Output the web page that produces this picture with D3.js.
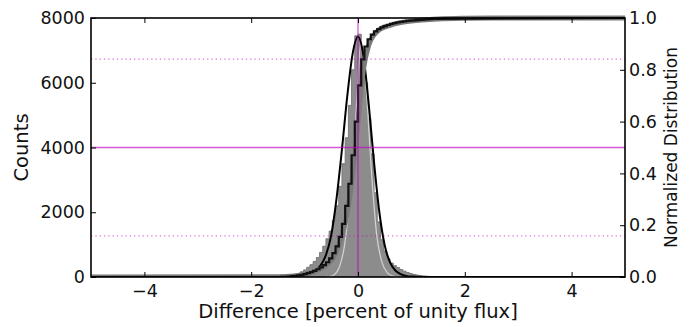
<!DOCTYPE html>
<html>
<head>
<meta charset="utf-8">
<script src="https://cdn.jsdelivr.net/npm/d3@7"></script>
<style>
  html, body { margin: 0; padding: 0; background: #fff; }
  svg { display: block; font-family: "DejaVu Sans", sans-serif; }
</style>
</head>
<body>
<svg id="chart" width="699" height="327"></svg>
<script>
// Histogram of flux differences (counts, left axis)
const binEdges = [-1.50,-1.44,-1.38,-1.32,-1.26,-1.20,-1.14,-1.08,-1.02,-0.96,-0.90,-0.84,-0.78,-0.72,-0.66,-0.60,-0.54,-0.48,-0.42,-0.36,-0.30,-0.24,-0.18,-0.12,-0.06,0.00,0.06,0.12,0.18,0.24,0.30,0.36,0.42,0.48,0.54,0.60,0.66,0.72,0.78,0.84,0.90,0.96,1.02,1.08,1.14,1.20,1.26,1.32,1.38,1.44,1.50];
const counts = [20,25,35,45,60,80,110,160,220,300,380,480,600,760,950,1180,1420,1750,2200,2800,3500,4300,5300,6400,7450,7500,7000,6000,4900,3800,2600,1700,1150,800,560,430,350,290,230,180,140,105,80,60,45,32,24,17,12,8];

// Cumulative distribution per bin (right axis)
const cdfBins = [0,0.001,0.001,0.002,0.003,0.004,0.006,0.008,0.011,0.015,0.019,0.024,0.030,0.037,0.046,0.057,0.072,0.092,0.118,0.155,0.205,0.275,0.36,0.47,0.6,0.74,0.84,0.89,0.918,0.936,0.948,0.957,0.964,0.969,0.973,0.977,0.980,0.983,0.985,0.987,0.989,0.990,0.991,0.992,0.993,0.994,0.995,0.996,0.997,0.997];

// Smooth model cumulative curve (right axis)
const cdfModelX = [-5,-1.5,-1.2,-1.0,-0.8,-0.6,-0.5,-0.4,-0.3,-0.2,-0.1,0,0.1,0.2,0.3,0.4,0.6,0.8,1.0,1.2,1.5,2.0,2.5,5];
const cdfModelY = [0,0.001,0.004,0.01,0.022,0.045,0.065,0.1,0.16,0.25,0.4,0.6,0.8,0.895,0.935,0.955,0.972,0.982,0.988,0.992,0.996,0.999,1,1];

// Gaussian fit to the counts
const fitX = [-5,-1.5,-1.3,-1.2,-1.1,-1.0,-0.9,-0.8,-0.7,-0.6,-0.5,-0.4,-0.3,-0.2,-0.1,0,0.1,0.2,0.3,0.4,0.5,0.6,0.7,0.8,0.9,1.0,1.2,5];
const fitY = [0,0,5,12,25,50,100,190,360,680,1300,2450,3950,5600,6900,7420,6850,5350,3550,2000,980,450,200,90,35,12,0,0];

// Narrow core profile
const coreX = [-0.6,-0.5,-0.45,-0.35,-0.25,-0.15,-0.05,0.06,0.15,0.25,0.35,0.45,0.55,0.65,0.75,0.85];
const coreY = [0,20,60,300,1000,2500,4700,7300,5900,3300,1300,450,130,30,5,0];

// Reference markers
const refX = [0];
const refSolid = [0.5];
const refDotted = [0.1587, 0.8413];

// Axis ticks
const xTicks = [-4,-2,0,2,4];
const countTicks = [0,2000,4000,6000,8000];
const normTicks = [0,0.2,0.4,0.6,0.8,1.0];

const svg = d3.select("#chart");
const L = 91, R = 625, T = 18, B = 277;

const x = d3.scaleLinear().domain([-5, 5]).range([L, R]);
const yC = d3.scaleLinear().domain([0, 8000]).range([B, T]);
const yN = d3.scaleLinear().domain([0, 1]).range([B, T]);

const plot = svg.append("g");
plot.append("defs").append("clipPath").attr("id", "clip")
  .append("rect").attr("x", L).attr("y", T - 3).attr("width", R - L).attr("height", B - T + 3);
const g = plot.append("g").attr("clip-path", "url(#clip)");

// filled step histogram
const histPts = [[binEdges[0], 0]];
counts.forEach((c, i) => { histPts.push([binEdges[i], c]); histPts.push([binEdges[i + 1], c]); });
histPts.push([binEdges[binEdges.length - 1], 0]);
g.append("path")
  .attr("d", d3.line().x(d => x(d[0])).y(d => yC(d[1]))(histPts) + "Z")
  .attr("fill", "#8c8c8c").attr("stroke", "#7a7a7a").attr("stroke-width", 1);

// core profile
g.append("path")
  .attr("d", d3.line().x(d => x(d[0])).y(d => yC(d[1])).curve(d3.curveMonotoneX)(coreX.map((v, i) => [v, coreY[i]])))
  .attr("fill", "none").attr("stroke", "#d4d4d4").attr("stroke-width", 1.2);

// gaussian fit
g.append("path")
  .attr("d", d3.line().x(d => x(d[0])).y(d => yC(d[1])).curve(d3.curveMonotoneX)(fitX.map((v, i) => [v, fitY[i]])))
  .attr("fill", "none").attr("stroke", "#000").attr("stroke-width", 2);

// model cumulative curve
g.append("path")
  .attr("d", d3.line().x(d => x(d[0])).y(d => yN(d[1])).curve(d3.curveMonotoneX)(cdfModelX.map((v, i) => [v, cdfModelY[i]])))
  .attr("fill", "none").attr("stroke", "#7a7a7a").attr("stroke-width", 5);

// cumulative step histogram
const cdfPts = [[-5, 0], [binEdges[0], 0]];
cdfBins.forEach((c, i) => { cdfPts.push([binEdges[i], c]); cdfPts.push([binEdges[i + 1], c]); });
cdfPts.push([5, 1]);
g.append("path")
  .attr("d", d3.line().x(d => x(d[0])).y(d => yN(d[1]))(cdfPts))
  .attr("fill", "none").attr("stroke", "#111").attr("stroke-width", 2.2);

// reference lines
g.selectAll(".vref").data(refX).join("line")
  .attr("x1", d => x(d)).attr("x2", d => x(d)).attr("y1", T).attr("y2", B)
  .attr("stroke", "#bf00bf").attr("stroke-opacity", 0.65).attr("stroke-width", 1.3);
g.selectAll(".href").data(refSolid).join("line")
  .attr("x1", L).attr("x2", R).attr("y1", d => yN(d)).attr("y2", d => yN(d))
  .attr("stroke", "#bf00bf").attr("stroke-opacity", 0.65).attr("stroke-width", 1.3);
g.selectAll(".dref").data(refDotted).join("line")
  .attr("x1", L).attr("x2", R).attr("y1", d => yN(d)).attr("y2", d => yN(d))
  .attr("stroke", "#bf00bf").attr("stroke-opacity", 0.55).attr("stroke-width", 1.3)
  .attr("stroke-dasharray", "1.3,3");

// axes
const tickFont = "17.5px";
const labelFont = "19.5px";
function styleAxis(sel) {
  sel.select(".domain").remove();
  sel.selectAll(".tick line").attr("stroke", "#000").attr("stroke-width", 1);
  sel.selectAll(".tick text").attr("fill", "#111").style("font-size", tickFont)
    .style("font-family", "'DejaVu Sans', sans-serif");
}

svg.append("g").attr("transform", `translate(0,${B})`)
  .call(d3.axisBottom(x).tickValues(xTicks).tickSize(-5).tickPadding(8).tickFormat(d3.format("d")))
  .call(styleAxis);
svg.append("g").attr("transform", `translate(0,${T})`)
  .call(d3.axisTop(x).tickValues(xTicks).tickSize(-5).tickFormat(""))
  .call(styleAxis);
svg.append("g").attr("transform", `translate(${L},0)`)
  .call(d3.axisLeft(yC).tickValues(countTicks).tickSize(-5).tickPadding(6).tickFormat(d3.format("d")))
  .call(styleAxis);
svg.append("g").attr("transform", `translate(${R},0)`)
  .call(d3.axisRight(yN).tickValues(normTicks).tickSize(-5).tickPadding(4).tickFormat(d3.format(".1f")))
  .call(styleAxis);

// frame
svg.append("rect").attr("x", L).attr("y", T).attr("width", R - L).attr("height", B - T)
  .attr("fill", "none").attr("stroke", "#000").attr("stroke-width", 1.6);

// axis titles
svg.append("text").attr("x", (L + R) / 2).attr("y", 318).attr("text-anchor", "middle")
  .style("font-size", labelFont).attr("fill", "#111").text("Difference [percent of unity flux]");
svg.append("text").attr("transform", `translate(28,${(T + B) / 2}) rotate(-90)`).attr("text-anchor", "middle")
  .style("font-size", labelFont).attr("fill", "#111").text("Counts");
svg.append("text").attr("transform", `translate(677,${(T + B) / 2}) rotate(-90)`).attr("text-anchor", "middle")
  .style("font-size", "17px").attr("fill", "#111").text("Normalized Distribution");
</script>
</body>
</html>
